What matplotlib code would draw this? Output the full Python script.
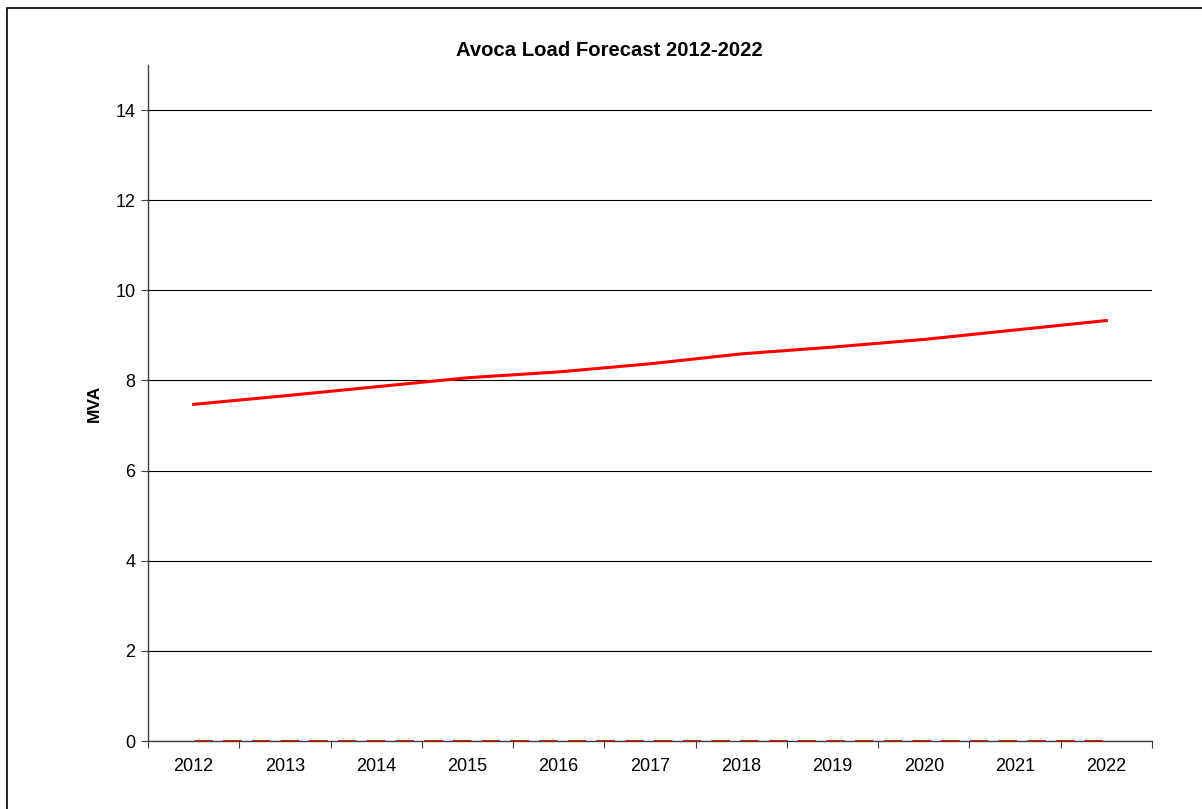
import matplotlib.pyplot as plt
import matplotlib.patches as mpatches
import numpy as np

plt.rcParams['font.family'] = ['Liberation Sans', 'DejaVu Sans']

# Forecast data
years = [2012, 2013, 2014, 2015, 2016, 2017, 2018, 2019, 2020, 2021, 2022]
load_mva = [7.47, 7.66, 7.86, 8.06, 8.19, 8.37, 8.59, 8.74, 8.91, 9.12, 9.33]
baseline = [0, 0, 0, 0, 0, 0, 0, 0, 0, 0, 0]
y_ticks = [0, 2, 4, 6, 8, 10, 12, 14]

fig = plt.figure(figsize=(12.02, 8.09), dpi=100)
ax = fig.add_axes([148 / 1202, 1 - 741 / 809, (1152 - 148) / 1202, (741 - 65) / 809])

# outer chart border (only top/left edges visible in the crop)
fig.patches.append(mpatches.Rectangle((7 / 1202, -0.05), 1.1, 1 - 8 / 809 + 0.05,
                                      transform=fig.transFigure, fill=False,
                                      edgecolor='black', linewidth=1.2))

ax.plot(years, load_mva, color='#ff0000', linewidth=2.2, zorder=3)
ax.plot(years, baseline, color='#ff0000', linewidth=2.2, dashes=(6, 3.4), zorder=3)

ax.set_xlim(2011.5, 2022.5)
ax.set_ylim(0, 15)

# y-axis
ax.set_yticks(y_ticks)
ax.yaxis.grid(True, color='black', linewidth=0.8)
ax.set_axisbelow(True)
ax.tick_params(axis='y', direction='out', length=5, width=0.8, color='#404040',
               labelsize=13, pad=4)
ax.set_ylabel('MVA', fontsize=12.5, fontweight='bold', labelpad=10)

# x-axis: labels at category centres, tick marks at boundaries
ax.set_xticks(years)
ax.set_xticklabels([str(y) for y in years])
ax.set_xticks(np.arange(2011.5, 2023, 1), minor=True)
ax.tick_params(axis='x', which='major', length=0, labelsize=13, pad=12)
ax.tick_params(axis='x', which='minor', direction='out', length=5, width=0.8, color='#404040')

for side in ['top', 'right']:
    ax.spines[side].set_visible(False)
for side in ['left', 'bottom']:
    ax.spines[side].set_color('#404040')
    ax.spines[side].set_linewidth(1.0)

fig.text(609 / 1202, 1 - 51 / 809, 'Avoca Load Forecast 2012-2022', ha='center', va='center',
         fontsize=14.6, fontweight='bold')

fig.savefig('out.png', dpi=100)
